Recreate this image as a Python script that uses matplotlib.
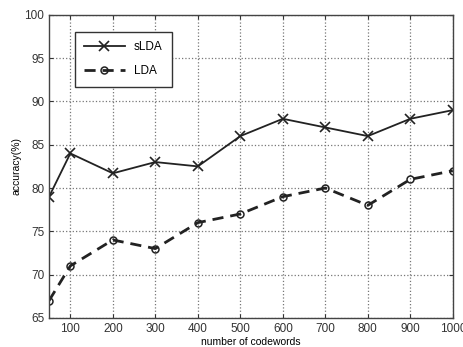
import matplotlib
matplotlib.use("Agg")
import matplotlib.pyplot as plt

codewords = [50, 100, 200, 300, 400, 500, 600, 700, 800, 900, 1000]
slda = [79, 84, 81.7, 83, 82.5, 86, 88, 87, 86, 88, 89]
lda = [67, 71, 74, 73, 76, 77, 79, 80, 78, 81, 82]
xticks = [100, 200, 300, 400, 500, 600, 700, 800, 900, 1000]
yticks = [65, 70, 75, 80, 85, 90, 95, 100]

plt.rcParams['font.family'] = ['Liberation Sans', 'DejaVu Sans']

fig = plt.figure(figsize=(4.63, 3.47), dpi=100)
ax = fig.add_axes([0.106, 0.084, 0.872, 0.873])

ax.plot(codewords, slda, color='#222222', lw=1.3, marker='x', ms=7, mew=1.2, label='sLDA')
ax.plot(codewords, lda, color='#222222', lw=2.0, ls=(0, (4, 2.5)), marker='o', ms=5,
        mfc='none', mew=1.1, label='LDA')

ax.set_xlim(50, 1000)
ax.set_ylim(65, 100)
ax.set_xticks(xticks)
ax.set_yticks(yticks)
ax.tick_params(direction='in', labelsize=8.5, top=True, right=True, length=3, colors='#333333')
ax.grid(True, ls=':', color='#777777', lw=0.9)
for s in ax.spines.values():
    s.set_color('#444444')
    s.set_linewidth(1.0)

ax.set_xlabel('number of codewords', fontsize=7.5, labelpad=2)
ax.set_ylabel('accuracy(%)', fontsize=7.5, labelpad=2)

leg = ax.legend(loc='upper left', bbox_to_anchor=(0.064, 0.944), borderaxespad=0, fontsize=8.5,
                fancybox=False, edgecolor='#333333', framealpha=1, handlelength=3.4,
                borderpad=0.8, labelspacing=1.0)
leg.get_frame().set_linewidth(1.0)

fig.savefig('out.png', dpi=100)
